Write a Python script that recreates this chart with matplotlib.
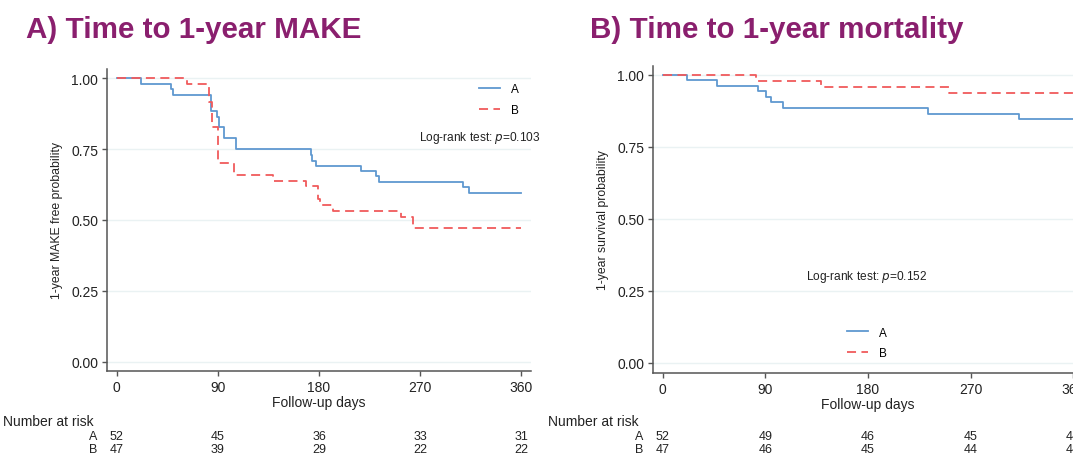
import matplotlib
matplotlib.use("Agg")
import matplotlib.pyplot as plt
from matplotlib.transforms import blended_transform_factory

plt.rcParams['font.family'] = ['Liberation Sans', 'DejaVu Sans']

# Kaplan-Meier steps (days, probability)
make_a_days = [0, 21.6, 48.0, 49.8, 83.9, 89.0, 91.0, 95.5, 106.1, 172.6, 174.1,
               177.0, 217.1, 230.7, 233.6, 307.8, 313.7, 360]
make_a_surv = [1.0, 0.981, 0.962, 0.942, 0.885, 0.865, 0.827, 0.788, 0.750, 0.729,
               0.710, 0.692, 0.672, 0.654, 0.635, 0.615, 0.595, 0.595]
make_b_days = [0, 62.8, 82.1, 84.5, 90.5, 104.6, 139.4, 168.4, 179.5, 181.0,
               192.2, 252.7, 263.9, 360]
make_b_surv = [1.0, 0.979, 0.915, 0.830, 0.702, 0.660, 0.639, 0.619, 0.575, 0.553,
               0.533, 0.510, 0.471, 0.471]

mort_a_days = [0, 20.9, 47.8, 83.7, 90.4, 94.5, 105.0, 233.0, 312.6, 360]
mort_a_surv = [1.0, 0.981, 0.962, 0.942, 0.923, 0.904, 0.885, 0.865, 0.846, 0.846]
mort_b_days = [0, 81.6, 139.1, 250.8, 360]
mort_b_surv = [1.0, 0.979, 0.957, 0.936, 0.936]

# number at risk table
risk_ticks = [0, 90, 180, 270, 360]
make_risk_a = [52, 45, 36, 33, 31]
make_risk_b = [47, 39, 29, 22, 22]
mort_risk_a = [52, 49, 46, 45, 44]
mort_risk_b = [47, 46, 45, 44, 44]

y_ticks = [0.0, 0.25, 0.5, 0.75, 1.0]

BLUE = '#5f98d0'
RED = '#f05a5c'
PURPLE = '#8a1f6e'
GRAY = '#555555'

W, H = 1073, 456
fig = plt.figure(figsize=(W / 100, H / 100), dpi=100)


def fy(px):
    return 1 - px / H


def fx(px):
    return px / W


def km_panel(rect, days_a, surv_a, days_b, surv_b, ylabel, ylim):
    ax = fig.add_axes(rect)
    ax.step(days_a, surv_a, where='post', color=BLUE, lw=1.3, label='A')
    ax.step(days_b, surv_b, where='post', color=RED, lw=1.3, ls=(0, (5, 3)), label='B')
    ax.set_xlim(-8.4, 368.3)
    ax.set_ylim(*ylim)
    ax.set_xticks(risk_ticks)
    ax.set_yticks(y_ticks)
    ax.set_yticklabels(['%.2f' % v for v in y_ticks])
    for v in y_ticks:
        ax.axhline(v, color='#eaf2f3', lw=1.0, zorder=0)
    for s in ['top', 'right']:
        ax.spines[s].set_visible(False)
    for s in ['left', 'bottom']:
        ax.spines[s].set_color(GRAY)
        ax.spines[s].set_linewidth(1.1)
    ax.tick_params(direction='out', length=3.5, width=1.0, color=GRAY,
                   labelsize=10, labelcolor='#222222', pad=3)
    ax.set_xlabel('Follow-up days', fontsize=10, va='center', color='#222222')
    ax.xaxis.set_label_coords(0.5, -0.104)
    ax.set_ylabel(ylabel, fontsize=8.8, va='center', color='#222222')
    return ax


def risk_table(ax, x_label, x_ab, risk_a, risk_b):
    fig.text(fx(x_label), fy(422), 'Number at risk', fontsize=10, va='center',
             color='#222222')
    fig.text(fx(x_ab), fy(437), 'A', fontsize=9, va='center', ha='right', color='#222222')
    fig.text(fx(x_ab), fy(450), 'B', fontsize=9, va='center', ha='right', color='#222222')
    tr = blended_transform_factory(ax.transData, fig.transFigure)
    for t, na, nb in zip(risk_ticks, risk_a, risk_b):
        ax.text(t, fy(437), str(na), transform=tr, fontsize=9, ha='center',
                va='center', color='#222222', clip_on=False)
        ax.text(t, fy(450), str(nb), transform=tr, fontsize=9, ha='center',
                va='center', color='#222222', clip_on=False)


# Panel A
ax1 = km_panel([fx(107.3), fy(371.7), fx(530.7 - 107.3), (371.7 - 70) / H],
               make_a_days, make_a_surv, make_b_days, make_b_surv,
               '1-year MAKE free probability', (-0.032, 1.033))
ax1.yaxis.set_label_coords(-0.1188, 0.5)
ax1.legend(loc='center left', bbox_to_anchor=(fx(479), fy(100.4)),
           bbox_transform=fig.transFigure, frameon=False, fontsize=8.5,
           handlelength=1.8, handletextpad=0.9, labelspacing=0.75,
           borderpad=0, borderaxespad=0)
fig.text(fx(541), fy(138.5), 'Log-rank test: $\\it{p}$=0.103', fontsize=8.6,
         ha='right', va='center', color='#222222')
risk_table(ax1, 3, 97, make_risk_a, make_risk_b)

# Panel B
ax2 = km_panel([fx(653.3), fy(373.5), fx(1082.6 - 653.3), (373.5 - 66.8) / H],
               mort_a_days, mort_a_surv, mort_b_days, mort_b_surv,
               '1-year survival probability', (-0.033, 1.031))
ax2.yaxis.set_label_coords(-0.117, 0.5)
ax2.legend(loc='center left', bbox_to_anchor=(fx(847), fy(344)),
           bbox_transform=fig.transFigure, frameon=False, fontsize=8.5,
           handlelength=1.8, handletextpad=0.9, labelspacing=0.75,
           borderpad=0, borderaxespad=0)
fig.text(fx(867), fy(277), 'Log-rank test: $\\it{p}$=0.152', fontsize=8.6,
         ha='center', va='center', color='#222222')
risk_table(ax2, 548, 643, mort_risk_a, mort_risk_b)

# Titles
fig.text(fx(25.5), fy(38), 'A) Time to 1-year MAKE', fontsize=21.3, fontweight='bold',
         color=PURPLE, va='baseline')
fig.text(fx(590), fy(38), 'B) Time to 1-year mortality', fontsize=21.3, fontweight='bold',
         color=PURPLE, va='baseline')

fig.savefig('out.png', dpi=100)
